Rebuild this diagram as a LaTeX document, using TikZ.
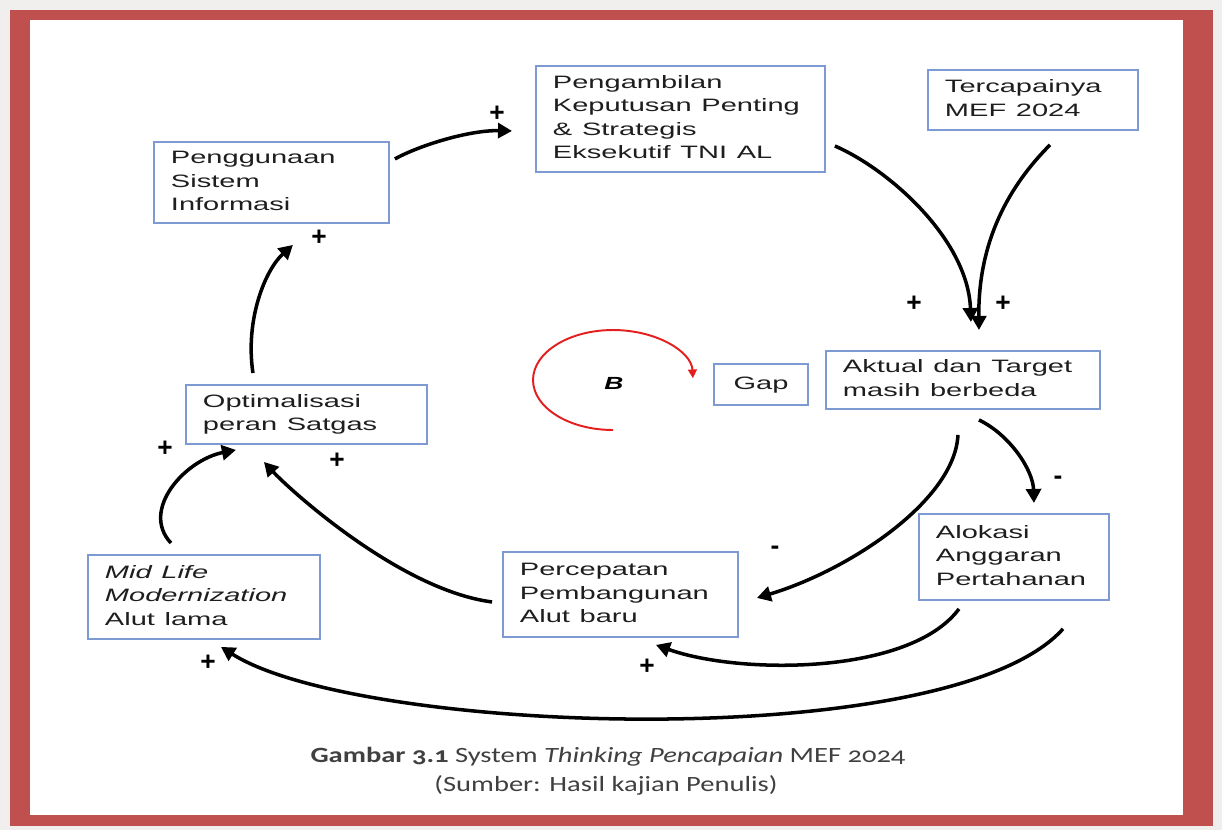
\documentclass[tikz,border=0pt]{standalone}
\usepackage{graphicx}
\usepackage{fontspec}
\setmainfont{Liberation Sans}
\newfontfamily\capfont[Numbers=OldStyle]{Carlito}
\usepackage{tikz}
\usetikzlibrary{arrows.meta}
\usepackage{xcolor}
\definecolor{framered}{RGB}{192,80,77}
\definecolor{pagegray}{RGB}{240,239,237}
\definecolor{boxblue}{RGB}{125,155,210}
\definecolor{loopred}{RGB}{228,30,30}
\definecolor{inkgray}{RGB}{30,30,30}
\newcommand{\boxfont}{\fontsize{10.2}{13.3}\selectfont}
\newcommand{\lbl}[1]{\scalebox{1.62}[1]{\begin{tabular}{@{}l@{}}#1\end{tabular}}}

\begin{document}
\begin{tikzpicture}[x=0.02cm, y=-0.02cm,
        var/.style={rectangle, draw=boxblue, line width=1.1pt, fill=white, anchor=north west, inner xsep=0.34cm, inner ysep=0pt, align=left, font=\boxfont, text=inkgray},
        arr/.style={-{Triangle[length=8pt, width=8.5pt]}, line width=2pt},
        sgn/.style={font=\fontsize{15}{15}\selectfont\bfseries, inner sep=0pt},
        caption/.style={font=\capfont\fontsize{12.4}{14}\selectfont, text=inkgray!85},
    ]
        \useasboundingbox (0,0) rectangle (1222,830);
        % Frame
        \fill[pagegray] (0,0) rectangle (1222,830);
        \fill[framered] (10,10) rectangle (1213,826);
        \fill[white] (30,20) rectangle (1183,815);

        % Pengambilan keputusan
        \node[var, minimum height=2.12cm, text width=5.10cm] (kep) at (535,65) {\lbl{Pengambilan\\Keputusan Penting\\\& Strategis\\Eksekutif TNI AL}};

        % Target MEF
        \node[var, minimum height=1.2cm, text width=3.52cm] (tcp) at (927,69) {\lbl{Tercapainya\\MEF 2024}};

        % Sistem informasi
        \node[var, minimum height=1.62cm, text width=4.02cm] (pgs) at (153,141) {\lbl{Penggunaan\\Sistem\\Informasi}};

        % Gap
        \node[var, minimum height=0.82cm, text width=1.2cm, align=center] (gap) at (713,363) {\lbl{Gap}};

        % Aktual vs target
        \node[var, minimum height=1.16cm, text width=4.80cm] (akt) at (825,350) {\lbl{Aktual dan Target\\masih berbeda}};

        % Satgas
        \node[var, minimum height=1.18cm, text width=4.14cm] (opt) at (185,384) {\lbl{Optimalisasi\\peran Satgas}};

        % MLM
        \node[var, minimum height=1.68cm, text width=3.96cm] (mlm) at (87,554) {\lbl{\textit{Mid Life}\\\textit{Modernization}\\Alut lama}};

        % Alut baru
        \node[var, minimum height=1.70cm, text width=4.02cm] (pcp) at (502,551) {\lbl{Percepatan\\Pembangunan\\Alut baru}};

        % Anggaran
        \node[var, minimum height=1.72cm, text width=3.12cm] (alk) at (918,513) {\lbl{Alokasi\\Anggaran\\Pertahanan}};

        % Balancing loop
        \draw[loopred, line width=1.1pt, -{Triangle[length=5pt, width=5pt]}] (613,430) arc[start angle=270, end angle=2, x radius=1.6cm, y radius=1.0cm];
        \node (bal) at (614,383) {\scalebox{1.5}[1]{\bfseries\itshape B}};

        % Arrows
        \draw[arr] ([shift={(5,-23.5)}]pgs.east) .. controls (420,145) and (470,130) .. ([shift={(-23,12)}]kep.west);
        \draw[arr] ([shift={(9,27)}]kep.east) .. controls (890,170) and (968,240) .. ([shift={(8,-28)}]akt.north);
        \draw[arr] ([shift={(17,14)}]tcp.south) .. controls (1010,185) and (978,240) .. ([shift={(16,-20)}]akt.north);
        \draw[arr] ([shift={(16,10)}]akt.south) .. controls (1010,435) and (1033,470) .. ([shift={(20,-10)}]alk.north);
        \draw[arr] ([shift={(-5,25)}]akt.south) .. controls (955,500) and (850,570) .. ([shift={(18,3.5)}]pcp.east);
        \draw[arr] ([shift={(-10,7.5)}]pcp.west) .. controls (400,590) and (290,490) .. ([shift={(-42.5,17)}]opt.south);
        \draw[arr] ([shift={(-33,-11)}]mlm.north) .. controls (140,510) and (185,460) .. ([shift={(-70.5,5)}]opt.south);
        \draw[arr] ([shift={(-53.5,-11)}]opt.north) .. controls (245,320) and (265,270) .. ([shift={(21.5,21)}]pgs.south);
        \draw[arr] ([shift={(-55,8)}]alk.south) .. controls (910,675) and (740,675) .. ([shift={(35.5,7)}]pcp.south);
        \draw[arr] ([shift={(49,28)}]alk.south) .. controls (950,755) and (360,735) .. ([shift={(17,7)}]mlm.south);

        % Polarities
        \node[sgn] (s1) at (497,114) {+};
        \node[sgn] (s2) at (914,304) {+};
        \node[sgn] (s3) at (1003,304) {+};
        \node[sgn] (s4) at (1058,480) {-};
        \node[sgn] (s5) at (775,550) {-};
        \node[sgn] (s6) at (337,461) {+};
        \node[sgn] (s7) at (165,449) {+};
        \node[sgn] (s8) at (319,238) {+};
        \node[sgn] (s9) at (647,667) {+};
        \node[sgn] (s10) at (208,663) {+};

        % Caption
        \node[caption] (cap1) at (608,757) {\scalebox{1.31}[1]{\textbf{Gambar 3.1} System \textit{Thinking Pencapaian} MEF 2024}};
        \node[caption] (cap2) at (606,785) {\scalebox{1.31}[1]{(Sumber: Hasil kajian Penulis)}};
    \end{tikzpicture}
\end{document}
